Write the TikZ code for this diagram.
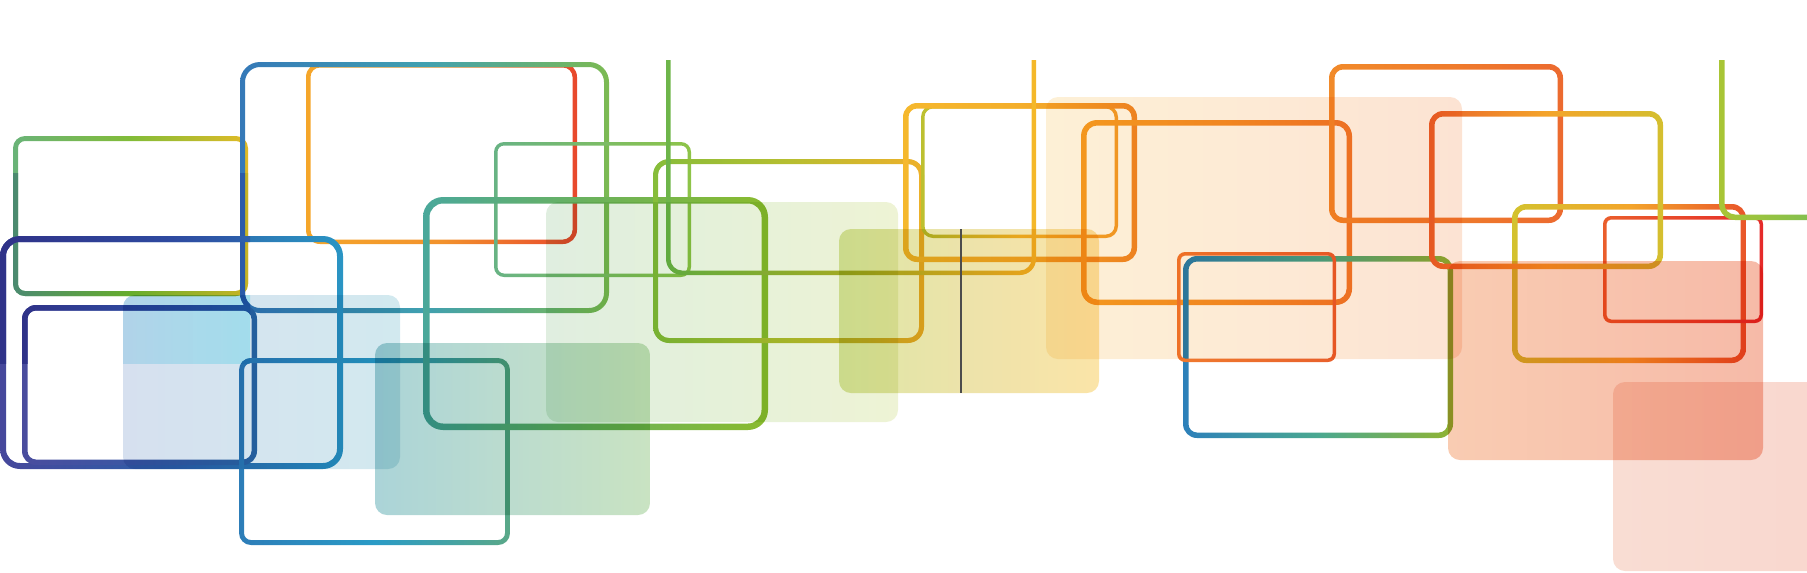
\documentclass[tikz,border=0pt]{standalone}

\begin{document}
\begin{tikzpicture}[x=0.01cm,y=-0.01cm]
\tikzset{
    %Define colour gradient, left to right
    tone/.style n args={3}{
           /utils/exec={\definecolor{tl}{HTML}{#1}\definecolor{tm}{HTML}{#2}\definecolor{tr}{HTML}{#3}},
           left color=tl,
           right color=tr,
           middle color=tm},
    %Define style for outlined frames
    frame/.style={even odd rule},
    %Define style for tinted panels
    panel/.style={rounded corners=1.2mm}
}
	\useasboundingbox (0,0) rectangle (1807,572);
	\clip (0,0) rectangle (1807,572);

 %frames
	\shade[frame,tone={69B378}{82BC38}{E2BB26}] [rounded corners=1.2mm] (13,136) rectangle (248,296) [rounded corners=0.7mm] (18,141) rectangle (243,291);
	\shade[frame,tone={F5A62A}{F2922C}{E8482C}] [rounded corners=1.4mm] (306,63) rectangle (577,244) [rounded corners=0.95mm] (310.5,67.5) rectangle (572.5,239.5);
	\shade[frame,tone={3579B8}{40A0B0}{7CBA52}] [rounded corners=2mm] (240,62) rectangle (609,313) [rounded corners=1.5mm] (245,67) rectangle (604,308);
	\shade[frame,tone={46479B}{2E60A8}{2A95C4}] [rounded corners=2mm] (0,236) rectangle (343,469) [rounded corners=1.4mm] (6,242) rectangle (337,463);
	\shade[frame,tone={4A4D9E}{3A58A4}{2C6AA8}] [rounded corners=1.4mm] (22,305) rectangle (257,465) [rounded corners=0.85mm] (27.5,310.5) rectangle (251.5,459.5);
	\shade[frame,tone={2D7DB8}{2A9BC6}{5AA888}] [rounded corners=1.2mm] (239,358) rectangle (510,545) [rounded corners=0.7mm] (244,363) rectangle (505,540);
	\shade[frame,tone={68B384}{7ABB68}{8EC448}] [rounded corners=1mm] (494,142) rectangle (691,277) [rounded corners=0.65mm] (497.5,145.5) rectangle (687.5,273.5);
	\shade[frame,tone={4AA89B}{6CB25A}{8ABB2E}] [rounded corners=2mm] (423,197) rectangle (768,430) [rounded corners=1.35mm] (429.5,203.5) rectangle (761.5,423.5);
	\shade[frame,tone={86BD3A}{B6BE30}{EEB02A}] [rounded corners=1.6mm] (653,159) rectangle (924,343) [rounded corners=1.1mm] (658,164) rectangle (919,338);
	\shade[frame,tone={BCC030}{F6BB2C}{F2A02A}] [rounded corners=1.2mm] (921,105) rectangle (1118,238) [rounded corners=0.85mm] (924.5,108.5) rectangle (1114.5,234.5);
	\shade[frame,tone={F5B82D}{F4AE2B}{EF8B27}] [rounded corners=1.4mm] (903,103) rectangle (1137,262) [rounded corners=0.85mm] (908.5,108.5) rectangle (1131.5,256.5);
	\shade[frame,tone={F5A226}{F39327}{EF7C2B}] [rounded corners=1.6mm] (1081,120) rectangle (1352,305) [rounded corners=1.05mm] (1086.5,125.5) rectangle (1346.5,299.5);
	\begin{scope}
	\clip (0,60) rectangle (1807,572);
	\shade[frame,tone={6DB54A}{B2B42A}{F5B82A}] [rounded corners=1.6mm] (666,0) rectangle (1036,275) [rounded corners=1.15mm] (670.5,4.5) rectangle (1031.5,270.5);
	\end{scope}
	\shade[frame,tone={2D80BA}{4AA890}{90B432}] [rounded corners=1.4mm] (1183,256) rectangle (1453,438) [rounded corners=0.85mm] (1188.5,261.5) rectangle (1447.5,432.5);
	\shade[frame,tone={F07A2E}{EC6E2D}{E8602C}] [rounded corners=0.8mm] (1177,252) rectangle (1336,362) [rounded corners=0.45mm] (1180.5,255.5) rectangle (1332.5,358.5);
	\shade[frame,tone={F18A2A}{EF7C2C}{EC6A2F}] [rounded corners=1.4mm] (1329,64) rectangle (1563,223) [rounded corners=0.85mm] (1334.5,69.5) rectangle (1557.5,217.5);
	\shade[frame,tone={D3C22E}{F3A52B}{E9552A}] [rounded corners=1.4mm] (1512,204) rectangle (1746,363) [rounded corners=0.85mm] (1517.5,209.5) rectangle (1740.5,357.5);
	\shade[frame,tone={EA5E2C}{E8462B}{E52A2A}] [rounded corners=0.8mm] (1603,216) rectangle (1763,323) [rounded corners=0.45mm] (1606.5,219.5) rectangle (1759.5,319.5);
	\shade[frame,tone={E9632A}{F4A42A}{D4BF2F}] [rounded corners=1.4mm] (1429,111) rectangle (1663,269) [rounded corners=0.85mm] (1434.5,116.5) rectangle (1657.5,263.5);
	\begin{scope}
	\clip (0,60) rectangle (1807,572);
	\shade[frame,tone={A9C535}{8CC148}{70B864}] [rounded corners=1.6mm] (1719,0) rectangle (1860,220) [rounded corners=1.05mm] (1724.5,5.5) rectangle (1854.5,214.5);
	\end{scope}

 %darker band on the left
	\begin{scope}
	\clip (0,173) rectangle (250,363);
	\shade[frame,tone={4B8A70}{66AD2C}{C8B424}] [rounded corners=1.2mm] (13,136) rectangle (248,296) [rounded corners=0.7mm] (18,141) rectangle (243,291);
	\shade[frame,tone={2B5BA8}{2E70B0}{7CBA52}] [rounded corners=2mm] (240,62) rectangle (609,313) [rounded corners=1.5mm] (245,67) rectangle (604,308);
	\shade[frame,tone={2F3288}{2E4AA0}{2C7FBC}] [rounded corners=2mm] (0,236) rectangle (343,469) [rounded corners=1.4mm] (6,242) rectangle (337,463);
	\shade[frame,tone={2F3288}{2F4A9F}{2C60A8}] [rounded corners=1.4mm] (22,305) rectangle (257,465) [rounded corners=0.85mm] (27.5,310.5) rectangle (251.5,459.5);
	\shade[frame,tone={2D7DB8}{2A9BC6}{5AA888}] [rounded corners=1.2mm] (239,358) rectangle (510,545) [rounded corners=0.7mm] (244,363) rectangle (505,540);
	\end{scope}

 %panels
	\begin{scope}[blend mode=multiply]
	\shade[panel,tone={D6E0EF}{D4E5EF}{D2E9EF}] (123,295) rectangle (400,469);
	\shade[panel,tone={ABD4D8}{BCDCCE}{C9E3C2}] (375,343) rectangle (650,515);
	\shade[panel,tone={E0EEE0}{E5F1D9}{EEF3D5}] (546,202) rectangle (898,422);
	\shade[panel,tone={DDE6A6}{EDE3AA}{FBE4A8}] (839,229) rectangle (1099,393);
	\shade[panel,tone={FDF0D6}{FDEAD5}{FCE3D3}] (1046,97) rectangle (1462,359);
	\shade[panel,tone={F9CCB2}{F8C3AD}{F6BAA8}] (1448,261) rectangle (1763,460);
	\shade[panel,tone={F9DDD3}{F9DAD1}{F9D7CE}] (1613,382) rectangle (1830,571);
	\begin{scope}
	\clip (0,173) rectangle (250,363);
	\shade[panel,tone={D3F1F9}{C3F8FC}{B2FFFF}] (123,295) rectangle (400,469);
	\end{scope}
	\end{scope}

	\draw[line width=0.4pt,black!70] (961,229) -- (961,393);

\end{tikzpicture}
\end{document}
